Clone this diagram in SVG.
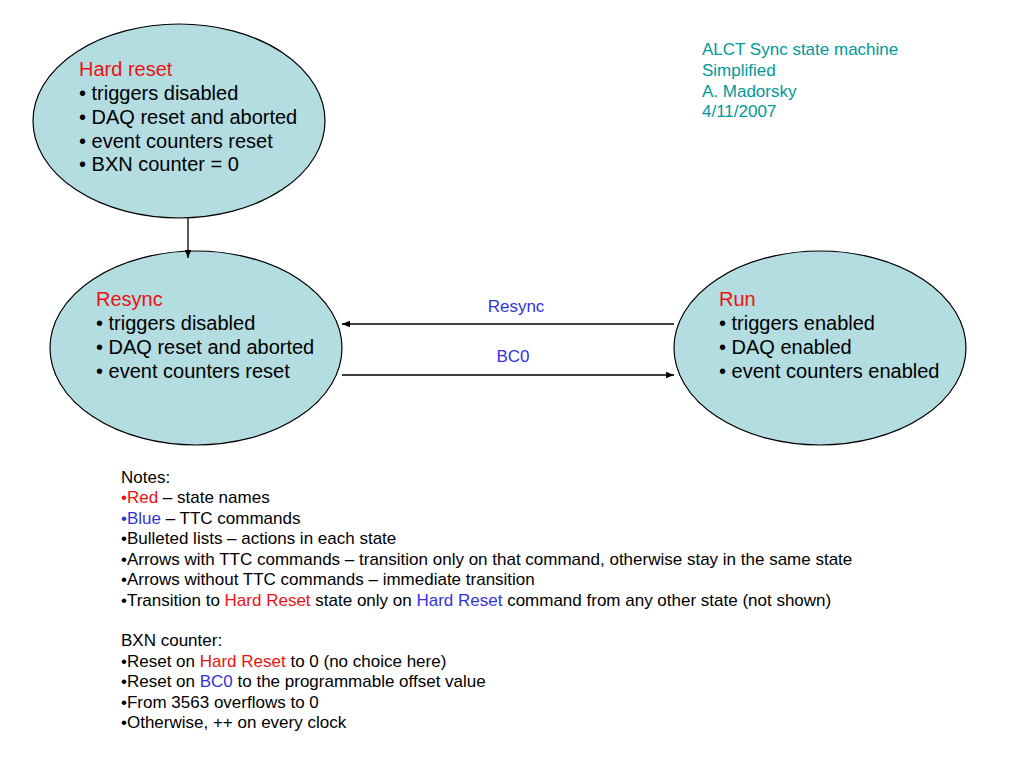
<svg xmlns="http://www.w3.org/2000/svg" width="1024" height="768" viewBox="0 0 1024 768">
<style>
.st{fill:#b3dde0;stroke:#000;stroke-width:1.2}
.t{font-family:"Liberation Sans",Arial,sans-serif;font-size:20px;fill:#000}
.n{font-family:"Liberation Sans",Arial,sans-serif;font-size:17px;fill:#000}
.r{fill:#ee1111}
.b{fill:#3333dd}
.tl{font-family:"Liberation Sans",Arial,sans-serif;font-size:17px;fill:#009999}
.c{stroke:#000;stroke-width:1.3;fill:none;marker-end:url(#ah)}
</style>
<defs>
<marker id="ah" viewBox="0 0 10 10" refX="10" refY="5" markerWidth="8" markerHeight="8" markerUnits="userSpaceOnUse" orient="auto"><path d="M0,1 L10,5 L0,9 z" fill="#000"/></marker>
</defs>
<rect width="1024" height="768" fill="#fff"/>
<g id="hardreset">
<ellipse class="st" cx="179" cy="121" rx="146" ry="97"/>
<text class="t" x="79" y="76"><tspan class="r">Hard reset</tspan></text>
<text class="t" x="79" y="100">• triggers disabled</text>
<text class="t" x="79" y="124">• DAQ reset and aborted</text>
<text class="t" x="79" y="148">• event counters reset</text>
<text class="t" x="79" y="171">• BXN counter = 0</text>
</g>
<g id="resync">
<ellipse class="st" cx="196" cy="348" rx="146" ry="97"/>
<text class="t" x="96" y="306"><tspan class="r">Resync</tspan></text>
<text class="t" x="96" y="330">• triggers disabled</text>
<text class="t" x="96" y="354">• DAQ reset and aborted</text>
<text class="t" x="96" y="378">• event counters reset</text>
</g>
<g id="run">
<ellipse class="st" cx="820" cy="348" rx="146" ry="97"/>
<text class="t" x="719" y="306"><tspan class="r">Run</tspan></text>
<text class="t" x="719" y="330">• triggers enabled</text>
<text class="t" x="719" y="354">• DAQ enabled</text>
<text class="t" x="719" y="378">• event counters enabled</text>
</g>
<g id="connectors">
<line class="c" x1="188" y1="218" x2="188" y2="258"/>
<line class="c" x1="674" y1="324" x2="342" y2="324"/>
<line class="c" x1="342" y1="375" x2="674" y2="375"/>
<text class="n b" x="516" y="312" text-anchor="middle">Resync</text>
<text class="n b" x="513" y="362" text-anchor="middle">BC0</text>
</g>
<g id="title">
<text class="tl" x="702" y="55">ALCT Sync state machine</text>
<text class="tl" x="702" y="76">Simplified</text>
<text class="tl" x="702" y="97">A. Madorsky</text>
<text class="tl" x="702" y="117">4/11/2007</text>
</g>
<g id="notes">
<text class="n" x="121" y="483">Notes:</text>
<text class="n" x="121" y="503"><tspan class="r">•Red</tspan> – state names</text>
<text class="n" x="121" y="524"><tspan class="b">•Blue</tspan> – TTC commands</text>
<text class="n" x="121" y="544">•Bulleted lists – actions in each state</text>
<text class="n" x="121" y="565">•Arrows with TTC commands – transition only on that command, otherwise stay in the same state</text>
<text class="n" x="121" y="585">•Arrows without TTC commands – immediate transition</text>
<text class="n" x="121" y="606">•Transition to <tspan class="r">Hard Reset</tspan> state only on <tspan class="b">Hard Reset</tspan> command from any other state (not shown)</text>
<text class="n" x="121" y="646">BXN counter:</text>
<text class="n" x="121" y="667">•Reset on <tspan class="r">Hard Reset</tspan> to 0 (no choice here)</text>
<text class="n" x="121" y="687">•Reset on <tspan class="b">BC0</tspan> to the programmable offset value</text>
<text class="n" x="121" y="708">•From 3563 overflows to 0</text>
<text class="n" x="121" y="728">•Otherwise, ++ on every clock</text>
</g>
</svg>
